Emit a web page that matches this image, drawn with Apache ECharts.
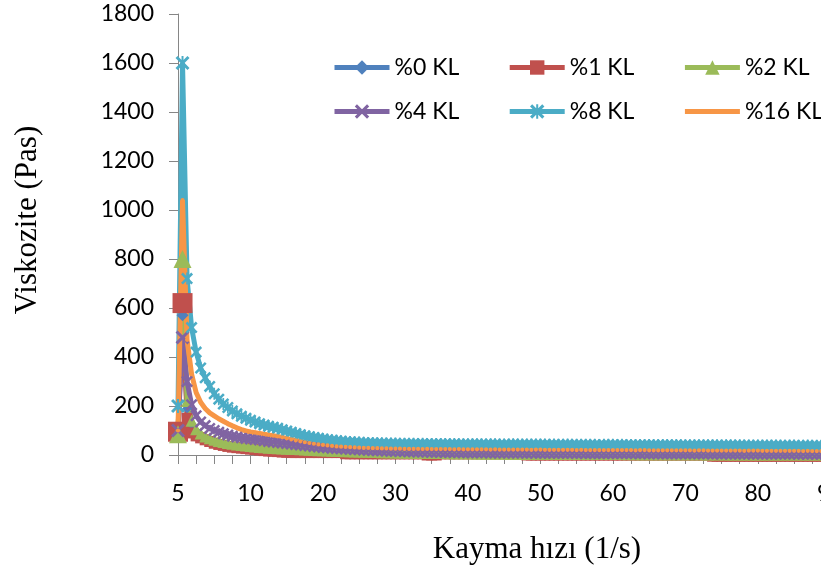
<!DOCTYPE html>
<html>
<head>
<meta charset="utf-8">
<title>Viskozite</title>
<script src="https://cdn.jsdelivr.net/npm/echarts@6/dist/echarts.min.js"></script>
<style>
html, body {
	margin: 0;
	padding: 0;
	background: #fff;
	overflow: hidden;
}
/* plot area runs past the right edge like the original picture */
#chart {
	width: 900px;
	height: 579px;
}
</style>
</head>
<body>
<div id="chart"></div>
<script type="text/javascript">
    // x labels, one every 16 points (ticks every 4)
    var tickLabels = ['5', '10', '20', '30', '40', '50', '60', '70', '80', '90'];
    var seriesNames = ['%0 KL', '%1 KL', '%2 KL', '%4 KL', '%8 KL', '%16 KL'];

    var kl0 = [
        90, 570, 190, 125, 95, 80, 70, 62, 56, 52, 48, 45, 42, 40, 38, 36,
        34, 32, 31, 29, 28, 27, 26, 25, 24, 23, 22, 21, 20, 19, 19, 18,
        17, 17, 16, 15, 15, 14, 14, 13, 13, 12, 12, 12, 11, 11, 10, 10,
        10, 9, 9, 9, 9, 8, 8, 8, 8, 7, 7, 7, 7, 7, 6, 6,
        6, 6, 6, 6, 6, 5, 5, 5, 5, 5, 5, 5, 5, 5, 5, 4,
        4, 4, 4, 4, 4, 4, 4, 4, 4, 4, 4, 4, 3, 4, 3, 3,
        3, 3, 3, 3, 3, 3, 3, 3, 3, 3, 3, 3, 3, 3, 3, 3,
        3, 3, 2, 3, 2, 2, 2, 2, 2, 2, 2, 2, 2, 2, 2, 2,
        2, 2, 2, 2, 2, 2, 2, 2, 2, 2, 2, 2, 2, 2, 2, 2,
        2, 2, 2, 2, 2, 2
    ];
    var kl1 = [
        95, 620, 150, 90, 78, 70, 62, 55, 48, 43, 39, 35, 32, 30, 28, 26,
        24, 22, 20, 18, 16, 15, 14, 12, 11, 10, 10, 10, 10, 10, 10, 10,
        10, 10, 10, 10, 10, 5, 5, 5, 5, 5, 5, 5, 5, 5, 5, 5,
        5, 5, 5, 5, 5, 5, 5, 0, 0, 0, 5, 5, 5, 5, 5, 5,
        5, 5, 5, 5, 5, 5, 5, 5, 5, 5, 5, 5, 5, 0, 0, 0,
        0, 0, 0, 0, 0, 0, 0, 0, 0, 0, 0, 0, 0, 0, 0, 0,
        0, 0, 0, 0, 0, 0, 0, 0, 0, 0, 0, 0, 0, 0, 0, 0,
        0, 0, 0, 0, 0, 0, -5, -5, -5, -5, -5, -5, -5, -5, -5, -5,
        -5, -5, -5, -5, -5, -5, -5, -5, -5, -5, -5, -5, -5, -5, -5, -5,
        -5, -5, -5, -5, -5, -5
    ];
    var kl2 = [
        85, 800, 220, 140, 105, 88, 76, 68, 62, 57, 53, 49, 46, 43, 41, 39,
        37, 35, 33, 32, 30, 29, 28, 27, 26, 25, 24, 23, 22, 21, 20, 19,
        19, 18, 17, 17, 16, 15, 15, 14, 14, 13, 13, 12, 12, 11, 11, 11,
        10, 10, 10, 9, 9, 9, 9, 8, 8, 8, 8, 8, 7, 7, 7, 7,
        7, 7, 6, 6, 6, 6, 6, 6, 6, 5, 6, 5, 5, 5, 5, 5,
        5, 5, 5, 5, 5, 4, 5, 4, 4, 4, 4, 4, 4, 4, 4, 4,
        4, 4, 4, 3, 4, 3, 3, 3, 3, 3, 3, 3, 3, 3, 3, 3,
        3, 3, 3, 3, 3, 2, 3, 2, 3, 2, 2, 2, 2, 2, 2, 2,
        2, 2, 2, 2, 2, 2, 2, 2, 2, 2, 2, 2, 2, 2, 2, 2,
        2, 2, 2, 2, 2, 2
    ];
    var kl4 = [
        100, 480, 300, 205, 160, 135, 120, 108, 100, 93, 87, 82, 77, 73, 70, 67,
        65, 63, 61, 58, 55, 53, 51, 49, 47, 45, 43, 41, 39, 37, 35, 33,
        31, 30, 28, 27, 26, 24, 23, 22, 21, 20, 19, 18, 17, 17, 16, 15,
        15, 14, 14, 13, 13, 12, 12, 12, 11, 11, 11, 10, 10, 10, 10, 9,
        9, 9, 9, 9, 9, 8, 8, 8, 8, 8, 8, 8, 8, 7, 8, 7,
        7, 7, 7, 7, 7, 7, 7, 7, 6, 7, 6, 6, 6, 6, 6, 6,
        6, 6, 6, 6, 6, 6, 5, 6, 5, 5, 5, 5, 5, 5, 5, 5,
        5, 5, 5, 5, 5, 5, 4, 5, 4, 5, 4, 4, 4, 4, 4, 4,
        4, 4, 4, 4, 4, 4, 4, 4, 4, 3, 4, 3, 4, 3, 3, 3,
        3, 3, 3, 3, 3, 3
    ];
    var kl8 = [
        200, 1600, 720, 520, 420, 355, 315, 280, 250, 228, 208, 194, 180, 168, 158, 150,
        142, 135, 128, 122, 117, 113, 109, 103, 98, 93, 88, 83, 79, 75, 71, 68,
        65, 62, 60, 58, 56, 54, 53, 52, 51, 50, 49, 49, 48, 48, 47, 47,
        47, 46, 46, 46, 46, 45, 46, 45, 45, 45, 45, 45, 44, 45, 44, 44,
        44, 44, 44, 44, 43, 44, 44, 43, 43, 43, 44, 43, 43, 43, 43, 43,
        43, 43, 42, 43, 42, 42, 43, 42, 42, 42, 42, 42, 42, 41, 42, 42,
        42, 41, 42, 41, 41, 41, 41, 41, 41, 41, 40, 41, 41, 40, 41, 40,
        40, 40, 40, 40, 40, 40, 40, 40, 39, 40, 40, 39, 40, 39, 39, 39,
        39, 39, 39, 39, 39, 39, 38, 39, 39, 38, 38, 39, 38, 38, 38, 38,
        38, 38, 38, 38, 37, 38
    ];
    var kl16 = [
        100, 1040, 470, 330, 255, 215, 190, 172, 160, 148, 138, 128, 119, 111, 104, 98,
        94, 91, 88, 85, 82, 79, 76, 72, 68, 64, 60, 56, 52, 49, 46, 43,
        41, 39, 37, 35, 34, 33, 32, 31, 30, 29, 29, 28, 28, 27, 27, 26,
        26, 26, 25, 25, 25, 25, 24, 25, 24, 24, 24, 24, 24, 23, 24, 23,
        23, 23, 23, 23, 23, 22, 23, 22, 22, 22, 22, 22, 22, 22, 21, 22,
        22, 21, 21, 21, 21, 21, 21, 21, 20, 21, 20, 20, 20, 20, 20, 20,
        20, 20, 20, 20, 20, 19, 20, 20, 19, 19, 19, 19, 19, 19, 19, 19,
        19, 19, 18, 19, 19, 18, 18, 18, 18, 18, 18, 18, 18, 17, 18, 18,
        18, 17, 17, 17, 17, 17, 17, 17, 17, 17, 16, 17, 16, 16, 16, 16,
        16, 16, 16, 16, 15, 16
    ];

    var colors = ['#4F81BD', '#C0504D', '#9BBB59', '#8064A2', '#4BACC6', '#F79646'];
    var symbols = [
        'diamond',
        'rect',
        'triangle',
        'path://M0,1.5L1.5,0L10,8.5L8.5,10ZM8.5,0L10,1.5L1.5,10L0,8.5Z',
        'path://M0,1.5L1.5,0L10,8.5L8.5,10ZM8.5,0L10,1.5L1.5,10L0,8.5ZM4.3,0L5.7,0L5.7,10L4.3,10Z',
        // small dot centred in a wider box, so the legend shows it small too
        'path://M0,0L0.01,0L0,0.01ZM10,10L9.99,10L10,9.99ZM3.5,5A1.5,1.5 0 1,0 6.5,5A1.5,1.5 0 1,0 3.5,5Z'
    ];
    var symbolSizes = [10, 11, 12, 12, 12, 14];
    // the markers of the first two points show up larger in the original
    var firstSizes = [12, 20, 18, 14, 14, 14];
    var allData = [kl0, kl1, kl2, kl4, kl8, kl16];

    // category axis: only every 16th point carries a label
    var categories = [];
    for (var i = 0; i < kl0.length; i++) {
        categories.push(i % 16 === 0 ? (tickLabels[i / 16] || '') : '');
    }

    function sizeFor(s) {
        return function (val, params) {
            return params.dataIndex < 2 ? firstSizes[s] : symbolSizes[s];
        };
    }

    var series = [];
    for (var s = 0; s < allData.length; s++) {
        series.push({
            name: seriesNames[s],
            type: 'line',
            data: allData[s],
            symbol: symbols[s],
            symbolSize: sizeFor(s),
            showAllSymbol: true,
            clip: false,
            lineStyle: {width: 5, color: colors[s]},
            itemStyle: {color: colors[s]}
        });
    }

    var fontLabel = 'Lato';
    var myChart = echarts.init(document.getElementById('chart'));

    var legendBase = {
        left: 332,
        width: 520,
        padding: 0,
        itemWidth: 55, itemHeight: 18, itemGap: 48,
        lineStyle: {width: 5},
        textStyle: {fontFamily: fontLabel, fontSize: 23, color: '#000'}
    };

    option = {
        animation: false,
        color: colors,
        grid: {left: 178, top: 14, bottom: 124, width: 675},
        legend: [
            Object.assign({data: seriesNames.slice(0, 3), top: 56}, legendBase),
            Object.assign({data: seriesNames.slice(3), top: 100}, legendBase)
        ],
        xAxis: {
            type: 'category',
            data: categories,
            boundaryGap: false,
            axisLine: {lineStyle: {color: '#868686'}},
            axisTick: {interval: 3, length: 9, lineStyle: {color: '#868686'}},
            axisLabel: {interval: 15, margin: 27, fontFamily: fontLabel, fontSize: 23, color: '#000'},
            splitLine: {show: false}
        },
        yAxis: {
            type: 'value',
            min: 0,
            max: 1800,
            interval: 200,
            axisLine: {show: true, lineStyle: {color: '#868686'}},
            axisTick: {show: true, length: 9, lineStyle: {color: '#868686'}},
            axisLabel: {
                margin: 24, fontFamily: fontLabel, fontSize: 23, color: '#000',
                formatter: function (v) { return String(v); }
            },
            splitLine: {show: false}
        },
        graphic: [{
            type: 'text',
            x: 537, y: 550,
            style: {
                text: 'Kayma hızı (1/s)',
                font: '31px "Liberation Serif"',
                fill: '#000',
                textAlign: 'center', textVerticalAlign: 'middle',
                align: 'center', verticalAlign: 'middle'
            }
        }, {
            type: 'text',
            x: 28, y: 220,
            rotation: Math.PI / 2,
            style: {
                text: 'Viskozite (Pas)',
                font: '31px "Liberation Serif"',
                fill: '#000',
                textAlign: 'center', textVerticalAlign: 'middle',
                align: 'center', verticalAlign: 'middle'
            }
        }],
        series: series
    };

    myChart.setOption(option);
</script>
</body>
</html>
